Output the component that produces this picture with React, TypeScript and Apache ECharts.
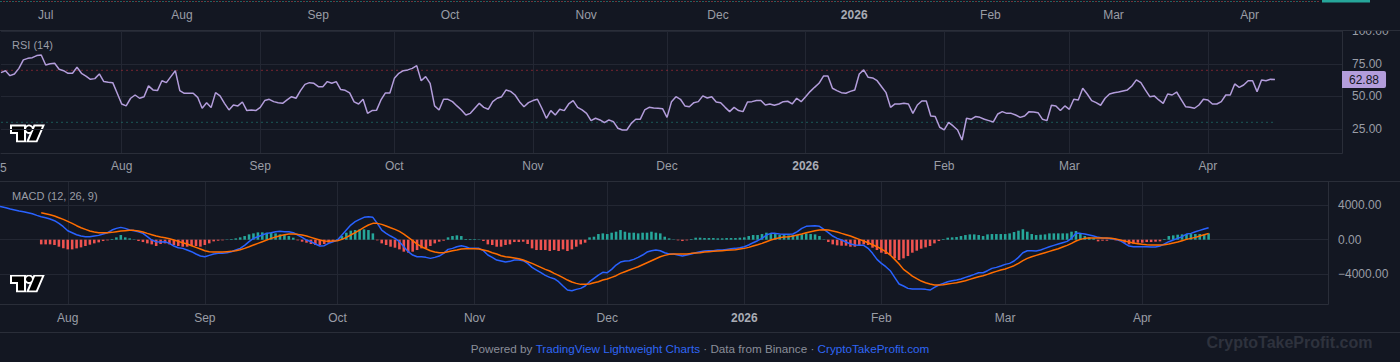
import React, { useEffect, useRef } from "react";
import * as echarts from "echarts";

// ---------- colours ----------
const BG = "#131722";
const GRID = "#232733";
const BORDER = "#2a2e39";
const LABEL = "#9a9da6";
const RSI_COLOR = "#b39ddb";
const MACD_COLOR = "#2962ff";
const SIGNAL_COLOR = "#ff6d00";
const UP = "#26a69a";
const DOWN = "#ef5350";
const FONT = "'Liberation Sans', Arial, sans-serif";

// ---------- time axes ----------
const TOP_START = "2025-06-21";
const TOP_DAYS = 301;
const RSI_START = "2025-07-05";
const RSI_DAYS = 301;
const MACD_START = "2025-07-16";
const MACD_DAYS = 302;
const LAST_BAR = "2026-04-16";
const MONTHS = ["Jan", "Feb", "Mar", "Apr", "May", "Jun", "Jul", "Aug", "Sep", "Oct", "Nov", "Dec"];

// ---------- RSI (14), daily from 2025-07-05 ----------
const RSI_VALUES = [
  68.2, 69.7, 65.9, 67.2, 71.5, 78, 79.2, 79.7, 81.3, 81.8,
  74.1, 75.0, 75.4, 70.8, 69.7, 67.7, 67.7, 72.3, 67.7, 65.6,
  63.1, 63.6, 67.2, 61.3, 60.8, 60.5, 52.3, 44.1, 42.6, 48.5,
  51, 48.5, 49.7, 58, 54.9, 54.4, 62, 60.5, 65.1, 69.7,
  54.4, 52.3, 52.3, 52.3, 49.2, 40.8, 45.1, 41.3, 52.8, 50.3,
  44.6, 39.5, 43.3, 42.6, 45.6, 39, 39.5, 39, 41.5, 46.7,
  47.7, 45.9, 45.1, 44.6, 47.2, 49.7, 48.5, 54.4, 59.2, 60.5,
  60, 57.4, 57.4, 61.3, 60, 61.3, 55.2, 54.6, 52.6, 45.7,
  44.1, 47.7, 36.9, 39, 39.2, 47.2, 52.6, 52.6, 63.8, 67.7,
  69.7, 70.3, 71.5, 73.6, 62, 65.1, 60, 42.6, 39.5, 47.7,
  47.7,
  45.9, 42.6, 39.5, 35.6, 36.9, 40.8, 44.6, 41.5, 40, 45.9,
  48.5, 49.7, 54.9, 53.8, 51, 45.9, 42, 45.1, 46.7, 47.7,
  40.8, 33.1, 39, 35.6, 40, 39, 44.1, 46.7, 41.5, 39.5,
  36.9, 31.3, 33.1, 31.8, 29.7, 31.8, 30.5, 25.4, 24.1, 24.1,
  29.2, 32.3, 32.3, 39.5, 41.5, 41, 40.8, 40.5, 33.8, 45.9,
  49.7, 47.7, 42.6, 42, 45.1, 45.9, 50.3, 48.7, 49.7, 45.6,
  45.1, 41.5, 38.2, 41.5, 39, 38.2, 45.6, 45.9, 46.7, 46.7,
  43.3, 44.1, 43.1, 44.1, 45.9, 46.2, 44.1, 48.5, 45.9, 49.7,
  53.6, 56.9, 60, 65.6, 65.6, 56.2, 54.4, 52.8, 52.3, 53.8,
  54.9, 67.2, 70.3, 64.6, 64.1, 62, 57.4, 52.8, 41.5, 44.1,
  44.1,
  44.6, 44.1, 36.9, 43.3, 46.4, 46.4, 34.9, 34.4, 26.2, 24.1,
  30, 27.2, 24.1, 16.4, 33.1, 32.3, 34.4, 33.8, 32.3, 31.3,
  30.3, 36.4, 38.2, 36.9, 36.9, 35.6, 33.8, 34.9, 38.2, 37.9,
  37.4, 32.3, 31.3, 43.1, 42.6, 39, 42.6, 40, 47.7, 47.2,
  56.2, 51.8, 46.7, 45.1, 43.1, 48.5, 51.8, 52.8, 53.3, 54.1,
  54.9, 57.9, 62.6, 60.5, 54.9, 49.7, 50.3, 47.2, 44.6, 51.8,
  51, 53.3, 47.7, 42, 41.5, 40.8, 43.3, 47.7, 47.2, 44.1,
  44.1, 45.9, 51, 51, 59.5, 56.9, 58.7, 62, 62, 53.6,
  62.6, 62, 63.1, 62.88,
];
const RSI_OVERBOUGHT = 70;
const RSI_OVERSOLD = 30;
const RSI_TICKS = { min: 0, max: 100, step: 25 };

// ---------- MACD (12, 26, 9), daily from 2025-07-16 ----------
const MACD_LINE = [
  3904, 3826, 3710, 3556, 3440, 3324, 3247, 3131, 3015, 2821,
  2667, 2551, 2396, 2203, 1894, 1507, 1044, 812, 580, 425,
  348, 348, 425, 502, 657, 812, 1121, 1314, 1430, 1314,
  1121, 1044, 928, 734, 348, -39, -232, -271, -232, -425,
  -734, -928, -1005, -1198, -1391, -1662, -1894, -1971, -1817, -1662,
  -1585, -1585, -1507, -1391, -1198, -1005, -657, -232, 155, 348,
  541, 734, 812, 928, 966, 928, 928, 812, 541, 271,
  -39, -232, -502, -734, -696, -425, -232, -39, 541, 1121,
  1701, 2087, 2358, 2590, 2667, 2590, 1894, 1121, 734, 425,
  155, -232, -812, -1391, -1778, -1971, -1971, -2048, -2164, -2048,
  -1894, -1585, -1121, -1005, -812, -696, -812, -1005, -1005, -1005,
  -1275, -1778, -2048, -2358, -2474, -2590, -2512, -2358, -2358, -2435,
  -2744, -3208, -3517, -3826, -4136, -4367, -4522, -4870, -5372, -5836,
  -5913, -5759, -5643, -5372, -4870, -4483, -4097, -3788, -3826, -3440,
  -2937, -2590, -2474, -2435, -2280, -2048, -1778, -1430, -1275, -1198,
  -1275, -1507, -1662, -1662, -1778, -1894, -1778, -1662, -1507, -1391,
  -1314, -1275, -1275, -1198, -1198, -1121, -1044, -1005, -928, -812,
  -618, -348, -116, 155, 541, 734, 734, 657, 618, 618,
  657, 928, 1314, 1546, 1585, 1623, 1546, 1198, 812, 425,
  155, -39, -271, -502, -618, -657, -657, -1005, -1585, -2280,
  -2744, -3131, -3594, -4367, -5140, -5372, -5643, -5720, -5720, -5720,
  -5759, -5836, -5527, -5256, -5063, -4870, -4754, -4677, -4561, -4367,
  -4213, -4020, -3826, -3826, -3594, -3324, -3208, -3053, -2860, -2744,
  -2474, -2048, -1507, -1275, -1275, -1314, -1198, -1005, -812, -657,
  -502, -348, -193, 155, 734, 734, 657, 541, 425, 271,
  193, 155, 116, 39, -116, -425, -734, -812, -812, -812,
  -812, -850, -850, -734, -502, -232, -39, 155, 348, 657,
  734, 928, 1082, 1237, 1391,
];
// signal and histogram start 10 days after the MACD line
const SIGNAL_OFFSET = 10;
const SIGNAL_LINE = [
  3131, 3015, 2899, 2744, 2551, 2358, 2126, 1894, 1623, 1391,
  1198, 1005, 889, 812, 812, 812, 850, 928, 1005, 1044,
  1082, 1082, 1005, 889, 734, 580, 425, 309, 232, 116,
  -39, -193, -348, -502, -696, -889, -1082, -1275, -1391, -1430,
  -1430, -1430, -1391, -1353, -1275, -1160, -1005, -812, -618, -425,
  -232, -39, 155, 309, 464, 580, 657, 657, 618, 541,
  425, 271, 116, -39, -155, -193, -155, -116, 39, 271,
  541, 812, 1121, 1430, 1701, 1894, 1894, 1778, 1585, 1391,
  1198, 966, 657, 271, -116, -502, -812, -1044, -1275, -1430,
  -1507, -1507, -1391, -1275, -1198, -1082, -1044, -1044, -1044, -1082,
  -1198, -1314, -1507, -1662, -1855, -1971, -2048, -2126, -2203, -2358,
  -2551, -2744, -2976, -3208, -3440, -3633, -3904, -4136, -4406, -4677,
  -4909, -5063, -5179, -5179, -5140, -4986, -4870, -4677, -4561, -4367,
  -4174, -3904, -3710, -3517, -3324, -3131, -2899, -2667, -2435, -2203,
  -1971, -1817, -1701, -1662, -1662, -1662, -1662, -1585, -1546, -1507,
  -1430, -1391, -1353, -1314, -1275, -1237, -1198, -1160, -1082, -1005,
  -889, -734, -580, -425, -232, -39, 116, 232, 309, 348,
  425, 541, 657, 812, 928, 1044, 1121, 1160, 1121, 1005,
  889, 734, 580, 425, 232, 39, -155, -348, -580, -812,
  -1082, -1391, -1778, -2280, -2821, -3440, -3826, -4213, -4522, -4793,
  -4986, -5140, -5256, -5256, -5218, -5140, -5063, -4986, -4870, -4754,
  -4600, -4445, -4290, -4174, -4020, -3826, -3672, -3517, -3401, -3208,
  -3015, -2744, -2435, -2164, -1971, -1817, -1662, -1507, -1353, -1198,
  -1044, -850, -657, -425, -155, 39, 155, 193, 193, 193,
  193, 193, 155, 77, -39, -155, -271, -387, -464, -541,
  -580, -618, -618, -618, -580, -502, -387, -271, -116, 39,
  155, 271, 425, 580, 734,
];
const HISTOGRAM = [
  -541, -541, -541, -618, -812, -1005, -1121, -1121, -1005, -889,
  -734, -580, -425, -309, -155, -77, 77, 271, 541, 271,
  155, 39, -155, -271, -425, -541, -734, -502, -425, -541,
  -618, -734, -812, -812, -734, -734, -812, -618, -425, -193,
  -116, -77, 39, 77, 155, 271, 425, 618, 734, 850,
  850, 812, 812, 734, 618, 541, 425, 232, -77, -232,
  -348, -502, -618, -618, -502, -348, -232, 77, 425, 812,
  1044, 1121, 1198, 1198, 1121, 734, -77, -425, -618, -812,
  -928, -1121, -1391, -1507, -1391, -1198, -1005, -1005, -734, -425,
  -232, -116, 271, 425, 502, 425, 77, 77, 77, 39,
  -155, -541, -618, -812, -812, -618, -541, -271, -271, -232,
  -502, -1005, -1198, -1198, -1198, -1314, -1198, -1314, -1121, -1314,
  -1121, -812, -541, -348, 271, 348, 657, 734, 657, 812,
  928, 1121, 928, 812, 812, 734, 812, 812, 928, 812,
  734, 348, 155, 39, -77, -155, -77, 77, 232, 232,
  193, 193, 193, 155, 155, 193, 193, 193, 232, 271,
  425, 541, 541, 657, 812, 657, 657, 541, 541, 502,
  541, 541, 618, 734, 657, 618, 425, 39, -271, -541,
  -657, -696, -696, -812, -812, -657, -541, -618, -928, -1198,
  -1507, -1662, -1778, -2164, -2358, -2164, -1894, -1507, -1275, -1044,
  -889, -734, -425, -155, 77, 232, 271, 309, 425, 541,
  618, 618, 541, 425, 618, 657, 657, 657, 657, 734,
  889, 1044, 1198, 928, 657, 541, 580, 618, 734, 734,
  734, 734, 734, 928, 1005, 734, 425, 271, 155, -193,
  -116, -116, 39, -77, -155, -348, -541, -464, -348, -348,
  -271, -271, -232, -193, 77, 425, 502, 580, 618, 657,
  657, 657, 657, 618, 734,
];
const MACD_TICKS = { min: -8000, max: 8000, step: 4000 };

// TradingView logo outline (T and slash), dot drawn as a circle
const TV_LOGO_PATH = "M14 2H2v6h6v9h6V2Z M26 17h-7l6-15h7l-6 15Z";

function dateCategories(start: string, count: number): string[] {
  const [y, m, d] = start.split("-").map(Number);
  const t0 = Date.UTC(y, m - 1, d);
  const out: string[] = [];
  for (let i = 0; i < count; i++) out.push(new Date(t0 + i * 86400000).toISOString().slice(0, 10));
  return out;
}

const isMonthStart = (_i: number, v: string) => v.slice(8, 10) === "01" && v <= LAST_BAR;
const monthLabel = (v: string) => {
  const m = Number(v.slice(5, 7));
  return m === 1 ? `{y|${v.slice(0, 4)}}` : MONTHS[m - 1];
};

function frameXAxis(gridIndex: number, data: string[], margin: number, frame: boolean) {
  return {
    type: "category",
    gridIndex,
    data,
    boundaryGap: false,
    axisLine: { show: frame, lineStyle: { color: BORDER, width: 1 } },
    axisTick: { show: false },
    axisLabel: {
      interval: isMonthStart,
      formatter: monthLabel,
      color: LABEL,
      fontSize: 12,
      fontFamily: FONT,
      margin,
      rich: { y: { fontWeight: "bold", color: "#a9acb5", fontSize: 12, fontFamily: FONT } },
    },
    splitLine: { show: frame, interval: isMonthStart, lineStyle: { color: GRID, width: 1 } },
  };
}

function hiddenXAxis(gridIndex: number, data: string[]) {
  return { type: "category", gridIndex, data, boundaryGap: false, show: false };
}

function frameYAxis(gridIndex: number) {
  return {
    type: "value",
    gridIndex,
    position: "right",
    min: 0,
    max: 1,
    axisLine: { show: true, lineStyle: { color: BORDER, width: 1 } },
    axisTick: { show: false },
    axisLabel: { show: false },
    splitLine: { show: false },
  };
}

function logo(x: number, y: number) {
  return {
    type: "group",
    x,
    y,
    scaleX: 1,
    scaleY: 0.94,
    z: 20,
    children: [
      { type: "tvlogo", style: { fill: "#ffffff", stroke: "#ffffff", lineWidth: 4, lineJoin: "miter" } },
      { type: "circle", shape: { cx: 19, cy: 5, r: 3 }, style: { fill: "#ffffff", stroke: "#ffffff", lineWidth: 4 } },
      { type: "tvlogo", style: { fill: "#000000" } },
      { type: "circle", shape: { cx: 19, cy: 5, r: 3 }, style: { fill: "#000000" } },
    ],
  };
}

export default function App() {
  const ref = useRef<HTMLDivElement>(null);

  useEffect(() => {
    echarts.graphic.registerShape("tvlogo", echarts.graphic.extendPath(TV_LOGO_PATH, {}));
    const chart = echarts.init(ref.current!, null, { renderer: "svg", width: 1400, height: 362 });

    const topDates = dateCategories(TOP_START, TOP_DAYS);
    const rsiDates = dateCategories(RSI_START, RSI_DAYS);
    const macdDates = dateCategories(MACD_START, MACD_DAYS);

    const pad = (arr: number[], n: number) => [...new Array(n).fill(null), ...arr];
    const signal = pad(SIGNAL_LINE, SIGNAL_OFFSET);
    const hist = pad(HISTOGRAM, SIGNAL_OFFSET);
    const lastRsi = RSI_VALUES[RSI_VALUES.length - 1];

    const gridBase = { containLabel: false, outerBoundsMode: "none" };

    const option: any = {
      animation: false,
      backgroundColor: BG,
      textStyle: { fontFamily: FONT },
      grid: [
        { ...gridBase, left: 1.75, top: -100, width: 1318.25, height: 101 },
        { ...gridBase, left: 1, top: 31.3, width: 1341, height: 130 },
        { ...gridBase, left: 1, top: 31.3, width: 1341, height: 122 },
        { ...gridBase, left: -3, top: 170.7, width: 1331, height: 138 },
        { ...gridBase, left: -3, top: 182, width: 1331, height: 122.3 },
      ],
      xAxis: [
        frameXAxis(0, topDates, 8, false),
        hiddenXAxis(1, rsiDates),
        frameXAxis(2, rsiDates, 7, true),
        hiddenXAxis(3, macdDates),
        frameXAxis(4, macdDates, 8, true),
      ],
      yAxis: [
        { type: "value", gridIndex: 0, show: false, min: 0, max: 1 },
        {
          type: "value",
          gridIndex: 1,
          position: "right",
          min: RSI_TICKS.min,
          max: RSI_TICKS.max,
          interval: RSI_TICKS.step,
          axisLine: { show: false },
          axisTick: { show: false },
          axisLabel: {
            color: LABEL,
            fontSize: 12,
            fontFamily: FONT,
            margin: 10,
            showMinLabel: false,
            formatter: (v: number) => v.toFixed(2),
          },
          splitLine: { show: true, showMinLine: false, lineStyle: { color: GRID, width: 1 } },
        },
        frameYAxis(2),
        {
          type: "value",
          gridIndex: 3,
          position: "right",
          min: MACD_TICKS.min,
          max: MACD_TICKS.max,
          interval: MACD_TICKS.step,
          axisLine: { show: false },
          axisTick: { show: false },
          axisLabel: {
            color: LABEL,
            fontSize: 12,
            fontFamily: FONT,
            margin: 10,
            showMinLabel: false,
            showMaxLabel: false,
            formatter: (v: number) => (v < 0 ? "\u2212" + Math.abs(v).toFixed(2) : v.toFixed(2)),
          },
          splitLine: { show: true, showMinLine: false, showMaxLine: false, lineStyle: { color: GRID, width: 1 } },
        },
        frameYAxis(4),
      ],
      series: [
        {
          type: "line",
          name: "overbought",
          xAxisIndex: 1,
          yAxisIndex: 1,
          data: RSI_VALUES.map(() => RSI_OVERBOUGHT),
          showSymbol: false,
          silent: true,
          lineStyle: { color: "rgba(242,54,69,0.45)", width: 1, type: [2, 3] },
          z: 1,
        },
        {
          type: "line",
          name: "oversold",
          xAxisIndex: 1,
          yAxisIndex: 1,
          data: RSI_VALUES.map(() => RSI_OVERSOLD),
          showSymbol: false,
          silent: true,
          lineStyle: { color: "rgba(38,166,154,0.45)", width: 1, type: [2, 3] },
          z: 1,
        },
        {
          type: "line",
          name: "RSI",
          xAxisIndex: 1,
          yAxisIndex: 1,
          data: RSI_VALUES,
          showSymbol: false,
          lineStyle: { color: RSI_COLOR, width: 1.5 },
          itemStyle: { color: RSI_COLOR },
          z: 3,
          markLine: {
            silent: true,
            symbol: ["none", "none"],
            lineStyle: { color: "rgba(0,0,0,0)", width: 1 },
            data: [{ yAxis: lastRsi }],
            label: {
              show: true,
              position: "end",
              distance: 0,
              formatter: () => lastRsi.toFixed(2),
              backgroundColor: RSI_COLOR,
              color: "#131722",
              fontSize: 12,
              fontFamily: FONT,
              padding: [3, 7, 2, 7],
              borderRadius: [0, 2, 2, 0],
            },
          },
        },
        {
          type: "bar",
          name: "Histogram",
          xAxisIndex: 3,
          yAxisIndex: 3,
          data: hist,
          barWidth: "58%",
          itemStyle: { color: (p: any) => (p.value >= 0 ? UP : DOWN) },
          z: 2,
        },
        {
          type: "line",
          name: "MACD",
          xAxisIndex: 3,
          yAxisIndex: 3,
          data: MACD_LINE,
          showSymbol: false,
          lineStyle: { color: MACD_COLOR, width: 1.5 },
          z: 3,
        },
        {
          type: "line",
          name: "Signal",
          xAxisIndex: 3,
          yAxisIndex: 3,
          data: signal,
          showSymbol: false,
          lineStyle: { color: SIGNAL_COLOR, width: 1.5 },
          z: 4,
        },
      ],
      graphic: {
        elements: [
          // hide upper half of the clipped "100.00" label
          { type: "rect", z: 100, shape: { x: 1343, y: 0, width: 57, height: 30.5 }, style: { fill: BG } },
          { type: "line", z: 101, shape: { x1: 0, y1: 1.5, x2: 1320, y2: 1.5 }, style: { stroke: "rgba(38,166,154,0.55)", lineWidth: 1, lineDash: [2, 4] } },
          { type: "line", z: 101, shape: { x1: 3, y1: 1.5, x2: 1320, y2: 1.5 }, style: { stroke: "rgba(239,83,80,0.45)", lineWidth: 1, lineDash: [2, 4] } },
          { type: "rect", z: 102, shape: { x: 1322, y: 0, width: 48, height: 2.5 }, style: { fill: UP } },
          // pane separators
          { type: "line", z: 101, shape: { x1: 0, y1: 30.5, x2: 1400, y2: 30.5 }, style: { stroke: BORDER, lineWidth: 1 } },
          { type: "line", z: 101, shape: { x1: 0, y1: 181.5, x2: 1400, y2: 181.5 }, style: { stroke: BORDER, lineWidth: 1 } },
          { type: "line", z: 101, shape: { x1: 0, y1: 332.5, x2: 1400, y2: 332.5 }, style: { stroke: BORDER, lineWidth: 1 } },
          // pane titles
          { type: "text", z: 20, x: 12, y: 45, style: { text: "RSI (14)", fill: LABEL, fontSize: 11, fontFamily: FONT, align: "left", verticalAlign: "middle" } },
          { type: "text", z: 20, x: 12, y: 196, style: { text: "MACD (12, 26, 9)", fill: LABEL, fontSize: 11, fontFamily: FONT, align: "left", verticalAlign: "middle" } },
          // year fragment at the left edge of the RSI time scale
          { type: "text", z: 20, x: 0, y: 167.5, style: { text: "5", fill: LABEL, fontSize: 12, fontFamily: FONT, align: "left", verticalAlign: "middle" } },
          logo(10, 124.5),
          logo(10, 274.5),
          // footer
          {
            type: "text",
            z: 20,
            x: 700,
            y: 348,
            style: {
              text: "{g|Powered by }{b|TradingView Lightweight Charts}{g| · Data from Binance · }{b|CryptoTakeProfit.com}",
              align: "center",
              verticalAlign: "middle",
              rich: {
                g: { fill: "#8a8e99", fontSize: 11.7, fontFamily: FONT },
                b: { fill: "#2f66f5", fontSize: 11.7, fontFamily: FONT },
              },
            },
          },
          {
            type: "text",
            z: 20,
            x: 1289.5,
            y: 342,
            style: { text: "CryptoTakeProfit.com", fill: "#2e323d", fontSize: 16, fontWeight: "bold", fontFamily: FONT, align: "center", verticalAlign: "middle" },
          },
        ],
      },
    };

    chart.setOption(option);
    return () => chart.dispose();
  }, []);

  return <div ref={ref} style={{ position: "absolute", left: 0, top: 0, width: 1400, height: 362, background: BG }} />;
}
